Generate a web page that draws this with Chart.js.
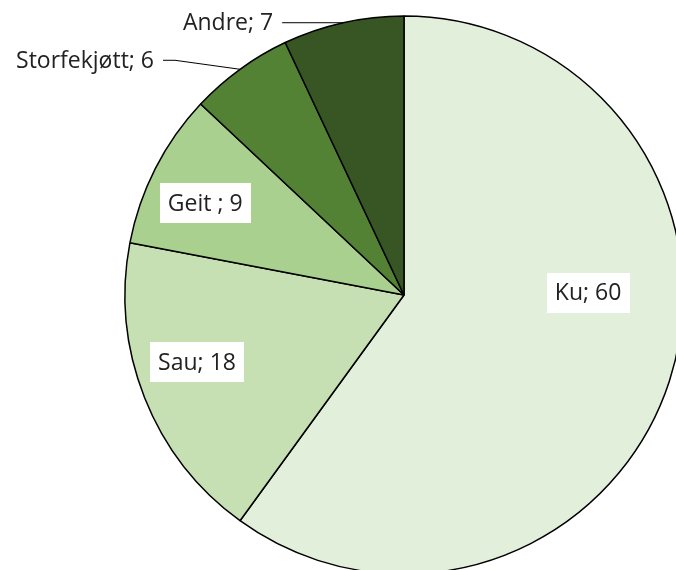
<!DOCTYPE html>
<html>
<head>
<meta charset="utf-8">
<script src="https://cdn.jsdelivr.net/npm/chart.js@4"></script>
<style>
  html, body { margin: 0; padding: 0; background: #fff; overflow: hidden; width: 676px; height: 570px; }
  #wrap { position: absolute; left: 0; top: 0; }
</style>
</head>
<body>
<div id="wrap"><canvas id="myChart" width="808" height="590"></canvas></div>
<script>
  const categories = ['Ku', 'Sau', 'Geit ', 'Storfekjøtt', 'Andre'];
  const values = [60, 18, 9, 6, 7];
  const colors = ['#E2EFDA', '#C6E0B4', '#A9D08E', '#548235', '#375623'];

  // how each label sits: inside boxes (r = fraction of radius, da = angle shift in degrees)
  // or outside with a leader line (lx/ly = elbow offset from the arc edge)
  const labelStyle = [
    { inside: true, r: 0.66, da: -18.7 },
    { inside: true, r: 0.78, da: 3.6 },
    { inside: true, r: 0.785, da: -2.2 },
    { inside: false, lx: -65, ly: -9, tail: 12 },
    { inside: false, lx: -61, ly: 0, tail: 0 }
  ];

  const FONT = '23px "Open Sans", sans-serif';

  const labelPlugin = {
    id: 'pieLabels',
    afterDatasetsDraw(chart) {
      const c = chart.ctx;
      const meta = chart.getDatasetMeta(0);
      c.save();
      c.font = FONT;
      c.textBaseline = 'middle';
      meta.data.forEach((arc, i) => {
        const p = arc.getProps(['x', 'y', 'startAngle', 'endAngle', 'outerRadius'], true);
        const st = labelStyle[i];
        const text = categories[i] + '; ' + values[i];
        const mid = (p.startAngle + p.endAngle) / 2;
        if (st.inside) {
          const a = mid + st.da * Math.PI / 180;
          const cx = p.x + Math.cos(a) * p.outerRadius * st.r;
          const cy = p.y + Math.sin(a) * p.outerRadius * st.r;
          const w = c.measureText(text).width;
          const bw = w + 16, bh = 40;
          c.fillStyle = '#fff';
          c.fillRect(Math.round(cx - bw / 2), Math.round(cy - bh / 2), Math.round(bw), bh);
          c.fillStyle = '#222';
          c.textAlign = 'center';
          c.fillText(text, cx, cy + 1);
        } else {
          const ex = p.x + Math.cos(mid) * p.outerRadius;
          const ey = p.y + Math.sin(mid) * p.outerRadius;
          const kx = ex + st.lx, ky = ey + st.ly;
          const tx = kx - st.tail;
          c.strokeStyle = '#000';
          c.lineWidth = 1;
          c.beginPath();
          c.moveTo(ex, ey);
          c.lineTo(kx, ky);
          c.lineTo(tx, ky);
          c.stroke();
          c.fillStyle = '#222';
          c.textAlign = 'right';
          c.fillText(text, tx - 9, ky + 1);
        }
      });
      c.restore();
    }
  };

  const ctx = document.getElementById('myChart').getContext('2d');

  const myChart = new Chart(ctx, {
    type: 'pie',
    data: {
      labels: categories,
      datasets: [{
        data: values,
        backgroundColor: colors,
        borderColor: '#000',
        borderWidth: 1.5,
        radius: 279
      }]
    },
    options: {
      responsive: false,
      animation: false,
      layout: { padding: 0 },
      plugins: {
        legend: { display: false },
        tooltip: { enabled: false }
      }
    },
    plugins: [labelPlugin]
  });
</script>
</body>
</html>
